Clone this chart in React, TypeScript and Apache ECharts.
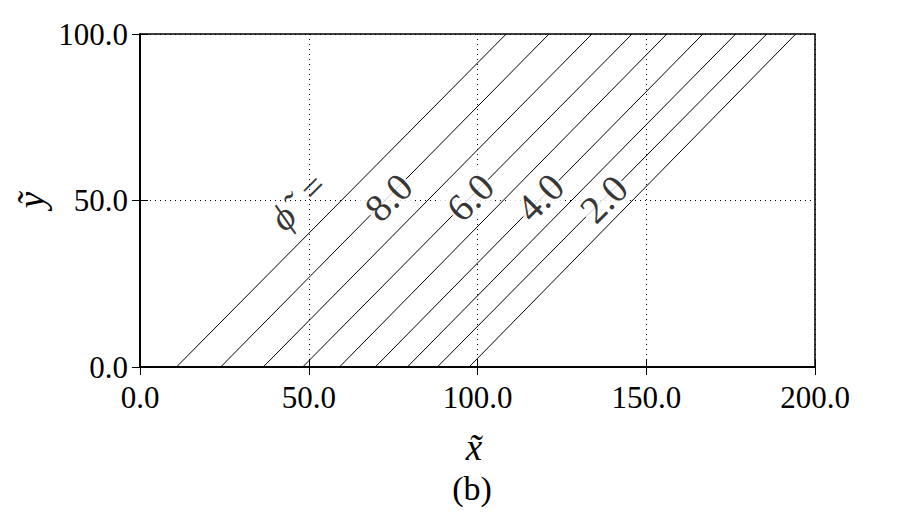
import React, { useEffect, useRef } from "react";
import * as echarts from "echarts";

// Contour levels (line 1 .. line 9)
const levels = [9.0, 8.0, 7.0, 6.0, 5.0, 4.0, 3.0, 2.0, 1.0];
// x where each contour meets y = 0 and y = 100
const bottomX = [10.8, 23.9, 36.5, 48.2, 59.1, 69.7, 79.2, 88.1, 97.5];
const topX = [108.5, 121.2, 133.9, 145.8, 156.1, 166.8, 176.5, 185.7, 194.3];
const yBottom = 0;
const yTop = 100;

// contour labels
const labelTexts = ["8.0", "6.0", "4.0", "2.0"];
const labelX = [73.6, 97.8, 118.5, 137.4];
const labelY = [51, 51, 51, 50.5];
const prefixText = "ϕ̃  =";
const prefixPos = [47.0, 49.8];

const xTicks = [0, 50, 100, 150, 200];
const yTicks = [0, 50, 100];

const FONT = "Liberation Serif";

export default function App() {
  const ref = useRef<HTMLDivElement>(null);
  useEffect(() => {
    if (!ref.current) return;
    const chart = echarts.init(ref.current, null, { renderer: "svg" });
    const lineSeries = levels.map((lv, i) => ({
      type: "line",
      name: String(lv),
      data: [
        [bottomX[i], yBottom],
        [topX[i], yTop],
      ],
      showSymbol: false,
      symbol: "none",
      lineStyle: { color: "#000", width: 1 },
      silent: true,
      z: 2,
    }));
    const labelData = labelTexts.map((t, i) => ({
      name: t,
      value: [labelX[i], labelY[i]],
    }));
    const axisLabelStyle = {
      color: "#000",
      fontFamily: FONT,
      fontSize: 31,
    };
    chart.setOption({
      animation: false,
      backgroundColor: "#fff",
      grid: {
        left: 140,
        right: 85,
        top: 34,
        bottom: 147,
        show: true,
        borderColor: "#000",
        borderWidth: 1.5,
        backgroundColor: "transparent",
      },
      xAxis: [
        {
          type: "value",
          min: xTicks[0],
          max: xTicks[xTicks.length - 1],
          interval: 50,
          position: "bottom",
          axisLine: { show: true, lineStyle: { color: "#000", width: 1.5 } },
          axisTick: { show: true, inside: true, length: 8, lineStyle: { color: "#000", width: 1 } },
          axisLabel: { ...axisLabelStyle, margin: 15, formatter: (v: number) => v.toFixed(1) },
          splitLine: { show: true, lineStyle: { color: "#000", type: [1, 4], width: 1 } },
        },
        {
          type: "value",
          min: xTicks[0],
          max: xTicks[xTicks.length - 1],
          interval: 50,
          position: "top",
          axisLine: { show: true, lineStyle: { color: "#000", width: 1.5 } },
          axisTick: { show: true, inside: true, length: 8, lineStyle: { color: "#000", width: 1 } },
          axisLabel: { show: false },
          splitLine: { show: false },
        },
      ],
      yAxis: [
        {
          type: "value",
          min: yTicks[0],
          max: yTicks[yTicks.length - 1],
          interval: 50,
          position: "left",
          axisLine: { show: true, lineStyle: { color: "#000", width: 1.5 } },
          axisTick: { show: true, inside: true, length: 8, lineStyle: { color: "#000", width: 1 } },
          axisLabel: { ...axisLabelStyle, margin: 12, formatter: (v: number) => v.toFixed(1) },
          splitLine: { show: true, lineStyle: { color: "#000", type: [1, 4], width: 1 } },
        },
        {
          type: "value",
          min: yTicks[0],
          max: yTicks[yTicks.length - 1],
          interval: 50,
          position: "right",
          axisLine: { show: true, lineStyle: { color: "#000", width: 1.5 } },
          axisTick: { show: true, inside: true, length: 8, lineStyle: { color: "#000", width: 1 } },
          axisLabel: { show: false },
          splitLine: { show: false },
        },
      ],
      series: [
        ...lineSeries,
        {
          type: "scatter",
          data: labelData,
          symbolSize: 0,
          silent: true,
          z: 5,
          label: {
            show: true,
            position: "inside",
            formatter: (p: any) => p.name,
            rotate: 45,
            color: "#000",
            fontFamily: FONT,
            fontSize: 39,
            backgroundColor: "#fff",
            padding: [0, 1],
          },
        },
        {
          type: "scatter",
          data: [{ name: prefixText, value: prefixPos }],
          symbolSize: 0,
          silent: true,
          z: 5,
          label: {
            show: true,
            position: "inside",
            formatter: (p: any) => p.name,
            rotate: 45,
            color: "#000",
            fontFamily: FONT,
            fontStyle: "italic",
            fontSize: 38,
          },
        },
      ],
      graphic: [
        {
          type: "text",
          x: 474,
          y: 447,
          style: {
            text: "x̃",
            fontFamily: FONT,
            fontStyle: "italic",
            fontSize: 37,
            fill: "#000",
            align: "center",
            verticalAlign: "middle",
          },
        },
        {
          type: "text",
          x: 31,
          y: 200,
          rotation: Math.PI / 2,
          style: {
            text: "ỹ",
            fontFamily: FONT,
            fontStyle: "italic",
            fontSize: 37,
            fill: "#000",
            align: "center",
            verticalAlign: "middle",
          },
        },
        {
          type: "text",
          x: 472,
          y: 488,
          style: {
            text: "(b)",
            fontFamily: FONT,
            fontSize: 34,
            fill: "#000",
            align: "center",
            verticalAlign: "middle",
          },
        },
      ],
    });
    return () => chart.dispose();
  }, []);
  return (
    <div
      ref={ref}
      style={{ position: "fixed", left: 0, top: 0, width: 900, height: 514, background: "#fff" }}
    />
  );
}
